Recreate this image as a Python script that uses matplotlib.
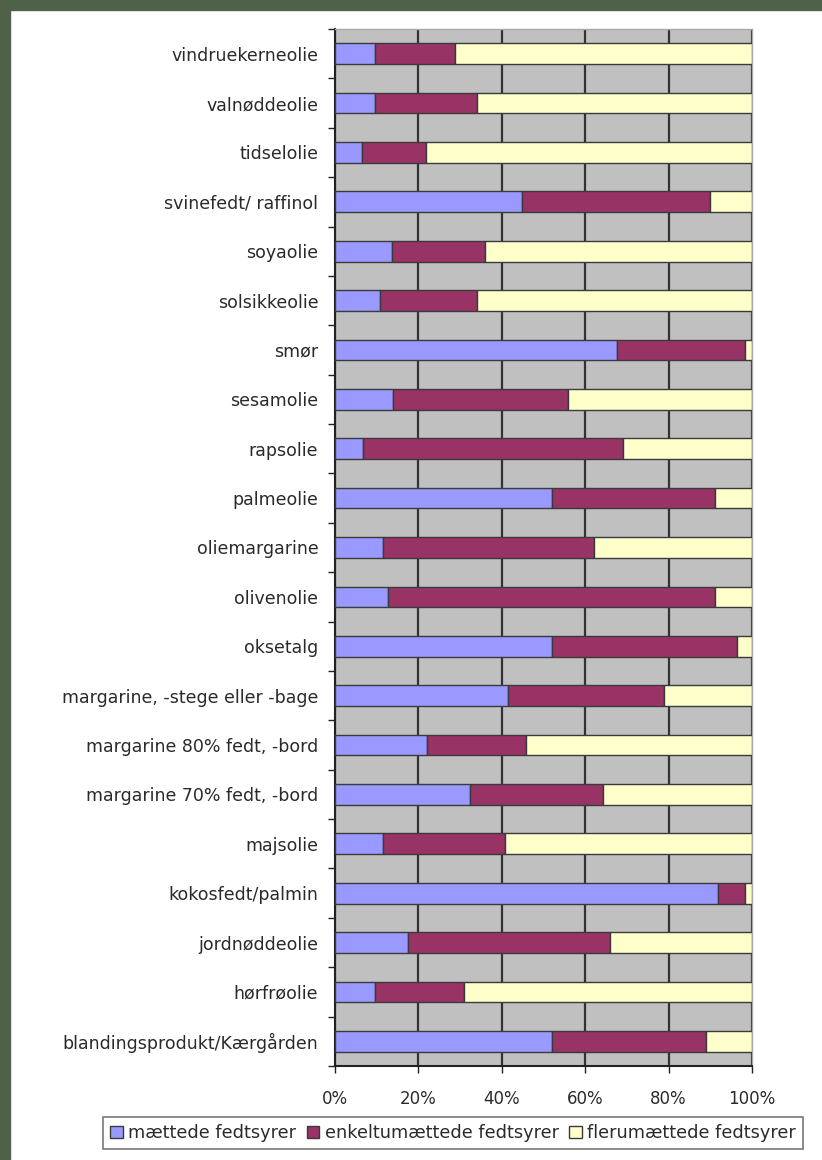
import numpy as np
import matplotlib.pyplot as plt
from matplotlib.patches import Rectangle

plt.rcParams['font.family'] = ['DejaVu Sans']

# Kategorier (oppefra og ned som i figuren)
kategorier = [
    "vindruekerneolie", "valnøddeolie", "tidselolie", "svinefedt/ raffinol",
    "soyaolie", "solsikkeolie", "smør", "sesamolie", "rapsolie", "palmeolie",
    "oliemargarine", "olivenolie", "oksetalg", "margarine, -stege eller -bage",
    "margarine 80% fedt, -bord", "margarine 70% fedt, -bord", "majsolie",
    "kokosfedt/palmin", "jordnøddeolie", "hørfrøolie",
    "blandingsprodukt/Kærgården",
]
# Andele i procent
maettede = [9.5, 9.5, 6.5, 44.8, 13.7, 10.7, 67.6, 13.8, 6.7, 52, 11.6,
            12.8, 52, 41.6, 22, 32.4, 11.6, 91.8, 17.6, 9.5, 52]
enkelt = [19.3, 24.5, 15.3, 45.2, 22.3, 23.3, 30.7, 42.1, 62.3, 39.2, 50.4,
          78.4, 44.4, 37.2, 23.8, 31.9, 29.2, 6.5, 48.4, 21.5, 37]
fler = [100 - m - e for m, e in zip(maettede, enkelt)]

serier = ["mættede fedtsyrer", "enkeltumættede fedtsyrer", "flerumættede fedtsyrer"]
farver = ["#9999ff", "#993366", "#ffffcc"]

fig = plt.figure(figsize=(8.22, 11.6), dpi=100)
fig.patch.set_facecolor("white")
# grøn ramme i venstre side og top
fig.patches.append(Rectangle((0, 0), 10 / 822, 1, transform=fig.transFigure,
                             color="#4f6149", zorder=-1))
fig.patches.append(Rectangle((0, 1 - 10 / 1160), 1, 10 / 1160,
                             transform=fig.transFigure, color="#4f6149", zorder=-1))

ax = fig.add_axes([335 / 822, 1 - 1066 / 1160, 417 / 822, 1037 / 1160])
ax.set_facecolor("#c0c0c0")

y = np.arange(len(kategorier))
venstre = np.zeros(len(kategorier))
for vals, navn, farve in zip([maettede, enkelt, fler], serier, farver):
    ax.barh(y, vals, left=venstre, height=0.42, color=farve,
            edgecolor="#3a3a3a", linewidth=1.0, label=navn, zorder=3)
    venstre += np.array(vals)

ax.set_ylim(len(kategorier) - 0.5, -0.5)
ax.set_xlim(0, 100)
ax.set_yticks(y)
ax.set_yticklabels(kategorier, fontsize=12.5, color="#2a2a2a")
ax.set_yticks(np.arange(-0.5, len(kategorier)), minor=True)
ax.tick_params(axis="y", which="major", length=0, pad=12)
ax.tick_params(axis="y", which="minor", length=5, width=1, color="#222222")
ax.set_xticks(np.arange(0, 101, 20))
ax.set_xticklabels([f"{v}%" for v in range(0, 101, 20)], fontsize=12,
                   color="#2a2a2a")
ax.tick_params(axis="x", length=5, width=1, color="#222222", pad=12)

ax.grid(axis="x", color="#333333", linewidth=1.6, zorder=1)
ax.set_axisbelow(True)
for s in ["top", "right"]:
    ax.spines[s].set_color("#aaaaaa")
    ax.spines[s].set_linewidth(1)
for s in ["left", "bottom"]:
    ax.spines[s].set_color("#222222")
    ax.spines[s].set_linewidth(1.5)

leg = fig.legend(loc="center", bbox_to_anchor=(453 / 822, 1 - 1133 / 1160),
                 ncol=3, fontsize=12.8, frameon=True, fancybox=False,
                 handlelength=0.7, handleheight=0.7, handletextpad=0.3,
                 columnspacing=0.6, borderpad=0.4)
leg.get_frame().set_edgecolor("#555555")
leg.get_frame().set_linewidth(1.2)
for t in leg.get_texts():
    t.set_color("#2a2a2a")

fig.savefig("out.png", dpi=100)
